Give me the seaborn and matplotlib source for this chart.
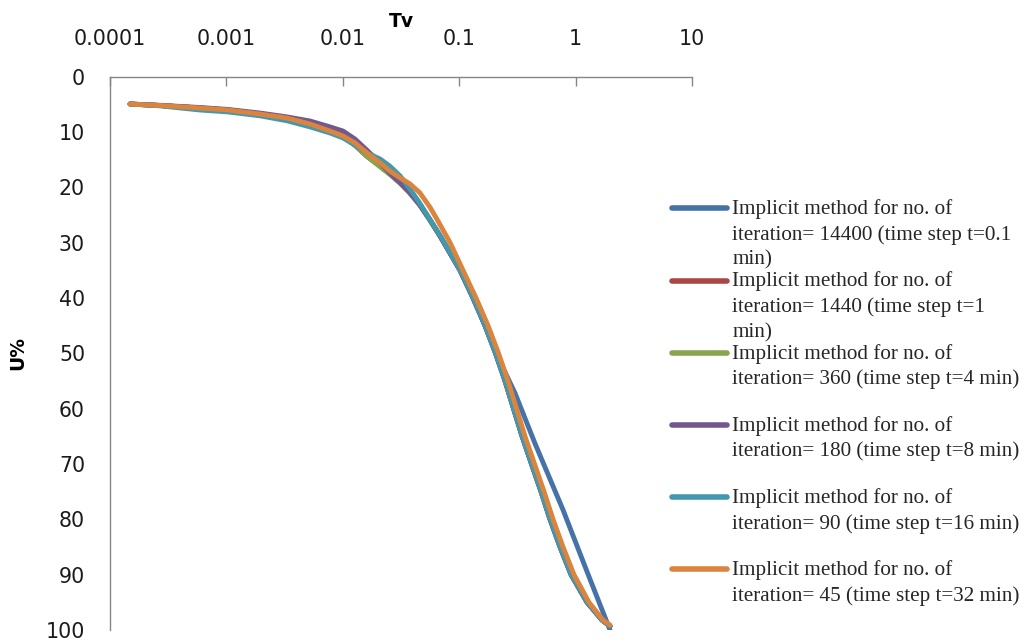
import matplotlib
matplotlib.use("Agg")
import matplotlib.pyplot as plt
import matplotlib.transforms as mtransforms
from matplotlib.legend_handler import HandlerLine2D
import pandas as pd
import seaborn as sns

# ---- data: time factor Tv vs degree of consolidation U% ----
tv_14400 = [1.486e-4, 2.69e-4, 5.93e-4, 1.032e-3, 1.945e-3, 3.32e-3, 5.23e-3, 7.76e-3,
            0.01004, 0.01273, 0.0161, 0.0209, 0.0254, 0.0311, 0.0377, 0.0459, 0.056,
            0.0684, 0.1016, 0.1314, 0.1666, 0.2050, 0.3016, 0.4479, 0.78, 1.3, 1.975]
u_14400 = [4.97, 5.24, 5.69, 6.05, 6.78, 7.5, 8.58, 9.85,
           10.75, 12.4, 14.4, 16.2, 17.6, 19.2, 21.0, 23.2, 25.9,
           28.8, 35.0, 40.0, 45.0, 49.8, 57.2, 66.3, 78.3, 90.3, 100.0]

tv_1440 = [1.486e-4, 2.69e-4, 5.93e-4, 1.032e-3, 1.945e-3, 3.32e-3, 5.23e-3, 7.76e-3,
           0.01004, 0.01273, 0.0161, 0.0209, 0.0254, 0.0311, 0.0377, 0.0459, 0.056,
           0.0684, 0.1016, 0.1314, 0.1666, 0.2050, 0.2474, 0.2928, 0.3467, 0.4179,
           0.5047, 0.6026, 0.7345, 0.9139, 1.253, 1.686, 1.977]
u_1440 = [4.97, 5.24, 5.69, 6.05, 6.78, 7.5, 8.58, 9.85,
          10.75, 12.4, 14.4, 16.2, 17.6, 19.2, 21.0, 23.2, 25.9,
          28.8, 35.0, 40.0, 45.0, 50.0, 55.0, 60.0, 65.0, 70.0,
          75.0, 80.0, 85.0, 90.0, 95.0, 98.2, 99.3]

tv_360 = [1.486e-4, 2.69e-4, 5.93e-4, 1.032e-3, 1.945e-3, 3.32e-3, 5.23e-3, 7.76e-3,
          0.01004, 0.01273, 0.0161, 0.0209, 0.0254, 0.0311, 0.0377, 0.0459, 0.056,
          0.0684, 0.1016, 0.1314, 0.1666, 0.2050, 0.2474, 0.2928, 0.3467, 0.4179,
          0.5047, 0.6026, 0.7345, 0.9139, 1.253, 1.686, 1.977]
u_360 = [4.97, 5.24, 5.69, 6.05, 6.78, 7.5, 8.6, 9.9,
         10.8, 12.4, 14.4, 16.3, 17.7, 19.3, 21.1, 23.2, 25.9,
         28.8, 34.9, 39.9, 44.9, 49.9, 54.9, 59.9, 64.9, 69.9,
         74.9, 79.9, 84.9, 89.9, 94.9, 98.2, 99.3]

tv_180 = [1.486e-4, 2.69e-4, 5.93e-4, 1.032e-3, 1.945e-3, 3.32e-3, 5.23e-3, 7.76e-3,
          0.01004, 0.01273, 0.0161, 0.0209, 0.0254, 0.0311, 0.0377, 0.0459, 0.056,
          0.0684, 0.1016, 0.1314, 0.1666, 0.2050, 0.2474, 0.2928, 0.3467, 0.4179,
          0.5047, 0.6026, 0.7345, 0.9139, 1.253, 1.686, 1.977]
u_180 = [4.97, 5.2, 5.6, 5.95, 6.6, 7.3, 8.04, 9.1,
         9.85, 11.3, 13.3, 15.6, 17.5, 19.2, 21.0, 23.2, 25.9,
         28.8, 35.0, 40.0, 45.0, 50.0, 55.0, 60.0, 65.0, 70.0,
         75.0, 80.0, 85.0, 90.0, 95.0, 98.2, 99.3]

tv_90 = [1.486e-4, 2.69e-4, 5.93e-4, 1.032e-3, 1.945e-3, 3.32e-3, 5.23e-3, 7.76e-3,
         0.01004, 0.01273, 0.0161, 0.0209, 0.0254, 0.0311, 0.0377, 0.0459, 0.056,
         0.0684, 0.1016, 0.1314, 0.1666, 0.2050, 0.2474, 0.2928, 0.3467, 0.4179,
         0.5047, 0.6026, 0.7345, 0.9139, 1.253, 1.686, 1.977]
u_90 = [4.97, 5.3, 6.05, 6.4, 7.1, 8.0, 9.1, 10.2,
        11.1, 12.4, 13.8, 14.9, 16.2, 17.97, 20.3, 22.9, 25.8,
        28.7, 34.9, 39.9, 44.9, 49.9, 54.9, 59.9, 64.9, 69.9,
        74.9, 79.9, 84.9, 89.9, 94.9, 98.2, 99.3]

tv_45 = [1.486e-4, 2.69e-4, 5.93e-4, 1.032e-3, 1.945e-3, 3.32e-3, 5.23e-3, 7.76e-3,
         0.01004, 0.01273, 0.0161, 0.0209, 0.0254, 0.0311, 0.0377, 0.0459, 0.056,
         0.0641, 0.0834, 0.1078, 0.1394, 0.1768, 0.2176, 0.2626, 0.3106, 0.3675,
         0.4436, 0.5357, 0.6397, 0.7801, 0.9687, 1.303, 1.719, 1.977]
u_45 = [4.97, 5.24, 5.69, 6.05, 6.78, 7.5, 8.58, 9.85,
        10.75, 12.0, 13.8, 15.6, 17.1, 18.3, 19.4, 21.0, 23.6,
        25.7, 30.0, 35.0, 40.0, 45.0, 50.0, 55.0, 60.0, 65.0,
        70.0, 75.0, 80.0, 85.0, 90.0, 95.0, 98.2, 99.1]

series_labels = [
    "Implicit method for no. of\niteration= 14400 (time step t=0.1\nmin)",
    "Implicit method for no. of\niteration= 1440 (time step t=1\nmin)",
    "Implicit method for no. of\niteration= 360 (time step t=4 min)\n",
    "Implicit method for no. of\niteration= 180 (time step t=8 min)\n",
    "Implicit method for no. of\niteration= 90 (time step t=16 min)\n",
    "Implicit method for no. of\niteration= 45 (time step t=32 min)\n",
]
series_tv = [tv_14400, tv_1440, tv_360, tv_180, tv_90, tv_45]
series_u = [u_14400, u_1440, u_360, u_180, u_90, u_45]

x_ticks = [1e-4, 1e-3, 1e-2, 1e-1, 1, 10]
x_tick_labels = ["0.0001", "0.001", "0.01", "0.1", "1", "10"]
y_ticks = list(range(0, 101, 10))

colors = ["#4572A7", "#AA4643", "#89A54E", "#71588F", "#4198AF", "#DB843D"]

# ---- long-form table ----
frames = []
for name, tv, u in zip(series_labels, series_tv, series_u):
    frames.append(pd.DataFrame({"Tv": tv, "U": u, "series": name}))
df = pd.concat(frames, ignore_index=True)

sns.set_theme(style="white")
plt.rcParams["font.family"] = ["DejaVu Sans"]

fig = plt.figure(figsize=(10.29, 6.44), dpi=100)
ax = fig.add_axes([0.1069, 0.0217, 0.5656, 0.8595])

sns.lineplot(data=df, x="Tv", y="U", hue="series", hue_order=series_labels,
             palette=colors, linewidth=3.5, estimator=None, sort=False,
             legend=False, ax=ax)
for ln in ax.get_lines():
    ln.set_solid_capstyle("round")
    ln.set_solid_joinstyle("round")

ax.set_xscale("log")
ax.set_xlim(1e-4, 10)
ax.set_ylim(100, 0)
ax.set_xticks(x_ticks)
ax.set_xticklabels(x_tick_labels)
ax.minorticks_off()
ax.set_yticks(y_ticks)
ax.xaxis.tick_top()
ax.xaxis.set_label_position("top")

grey = "#868686"
for side in ["right", "bottom"]:
    ax.spines[side].set_visible(False)
for side in ["left", "top"]:
    ax.spines[side].set_color(grey)
    ax.spines[side].set_linewidth(1.0)

ax.tick_params(axis="x", direction="in", length=6.5, width=1.0, color=grey,
               labelsize=14.8, pad=20, labelcolor="#1a1a1a")
ax.tick_params(axis="y", direction="in", length=6, width=1.0, color=grey,
               labelsize=14.8, pad=18, labelcolor="#1a1a1a")

ax.set_xlabel("Tv", fontsize=13.5, fontweight="bold", labelpad=1, color="black")
ax.set_ylabel("U%", fontsize=13.5, fontweight="bold", labelpad=13, color="black")


class FirstLineHandler(HandlerLine2D):
    """Raise the legend line so it sits beside the first text line."""

    def __init__(self, shift, **kw):
        super().__init__(**kw)
        self.shift = shift

    def create_artists(self, legend, orig_handle, xdescent, ydescent, width,
                       height, fontsize, trans):
        artists = super().create_artists(legend, orig_handle, xdescent, ydescent,
                                         width, height, fontsize, trans)
        for a in artists:
            a.set_transform(mtransforms.Affine2D().translate(0, self.shift) + trans)
        return artists


handles = ax.get_lines()[:6]
handler = FirstLineHandler(shift=18.5)
leg = fig.legend(handles, series_labels, loc="upper left",
                 bbox_to_anchor=(672 / 1029, 1 - 199 / 644),
                 frameon=False, handlelength=2.6, handletextpad=0.25,
                 labelspacing=0.07, borderaxespad=0, borderpad=0,
                 prop={"family": "Liberation Serif", "size": 15.2},
                 handler_map={h: handler for h in handles})
for t in leg.get_texts():
    t.set_linespacing(1.414)
for h in leg.legend_handles:
    h.set_linewidth(4)
    h.set_solid_capstyle("round")

fig.savefig("out.png", dpi=100)
